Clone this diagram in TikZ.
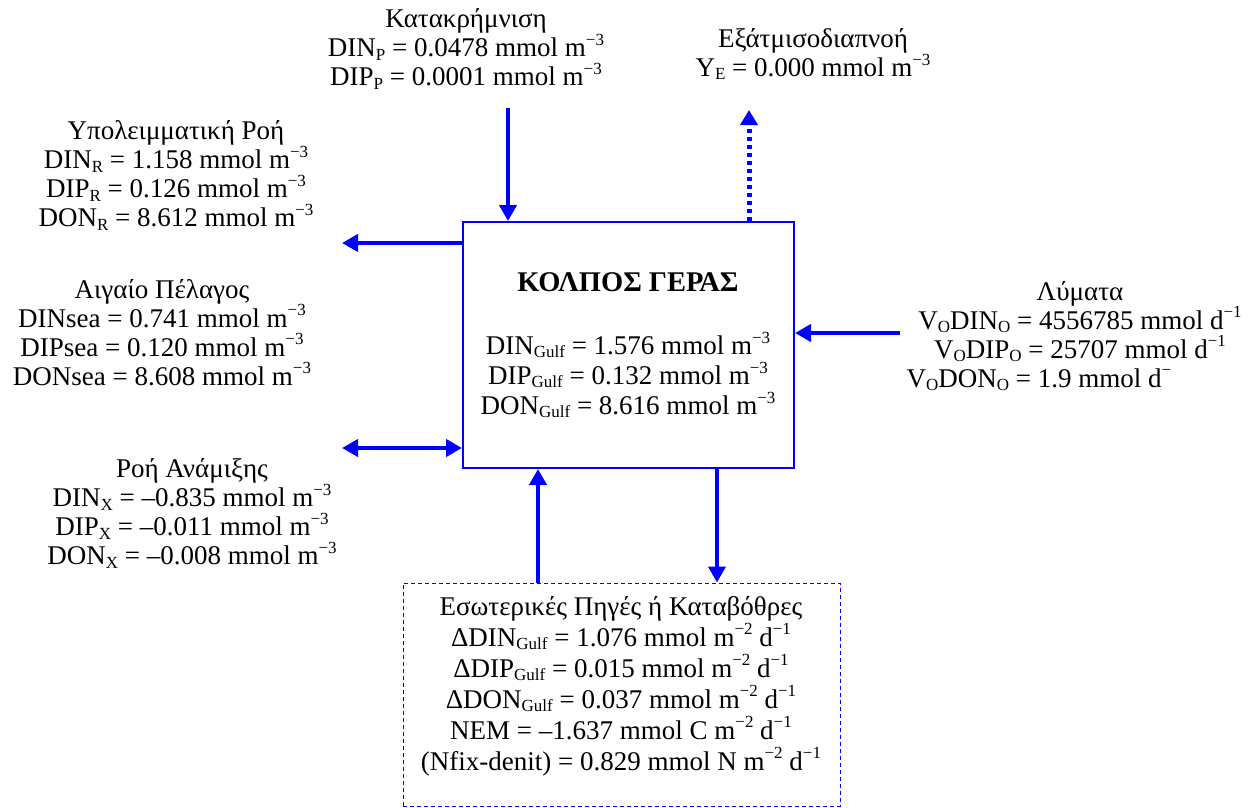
\documentclass[tikz,border=0pt]{standalone}
\usepackage{fontspec}
\setmainfont{Liberation Serif}
\usetikzlibrary{arrows.meta}
\definecolor{flow}{RGB}{0,0,255}
\newcommand{\ssub}[1]{\raisebox{-0.12em}{\fontsize{17}{17}\selectfont #1}}
\newcommand{\ssup}[1]{\raisebox{0.42em}{\fontsize{17}{17}\selectfont #1}}
\begin{document}
\begin{tikzpicture}[x=1pt,y=-1pt,
  txt/.style={align=center, font=\fontsize{27}{29}\selectfont, inner sep=0pt},
  boxtxt/.style={align=center, font=\fontsize{27}{30}\selectfont, inner sep=0pt},
  sinktxt/.style={align=center, font=\fontsize{27}{31}\selectfont, inner sep=0pt},
  flowline/.style={draw=flow, line width=4.5pt, -{Triangle[length=16pt,width=17pt]}},
  evapline/.style={draw=flow, line width=5pt, dash pattern=on 4pt off 4pt, -{Triangle[length=15pt,width=17pt]}},
]
\useasboundingbox (0,0) rectangle (1256,808);

% central compartment
\node[draw=flow, line width=2pt, minimum width=331pt, minimum height=246pt, inner sep=0pt] (gulf) at (628.5,345) {};
\node[boxtxt, font=\fontsize{28.5}{30}\selectfont\bfseries] (gulfT) at (628,282) {ΚΟΛΠΟΣ ΓΕΡΑΣ};
\node[boxtxt] (gulfV) at (628,375) {DIN\ssub{Gulf} = 1.576 mmol m\ssup{−3}\\
  DIP\ssub{Gulf} = 0.132 mmol m\ssup{−3}\\
  DON\ssub{Gulf} = 8.616 mmol m\ssup{−3}};

% internal sources / sinks
\node[draw=flow, line width=1pt, dash pattern=on 4pt off 3pt, minimum width=437pt, minimum height=223pt, inner sep=0pt] (sink) at (621.5,694.5) {};
\node[sinktxt] (sinkT) at (621,686) {Εσωτερικές Πηγές ή Καταβόθρες\\
  ΔDIN\ssub{Gulf} = 1.076 mmol m\ssup{−2} d\ssup{−1}\\
  ΔDIP\ssub{Gulf} = 0.015 mmol m\ssup{−2} d\ssup{−1}\\
  ΔDON\ssub{Gulf} = 0.037 mmol m\ssup{−2} d\ssup{−1}\\
  NEM = –1.637 mmol C m\ssup{−2} d\ssup{−1}\\
  (Nfix-denit) = 0.829 mmol N m\ssup{−2} d\ssup{−1}};

% outer terms
\node[txt] (rain) at (466,49) {Κατακρήμνιση\\
  DIN\ssub{P} = 0.0478 mmol m\ssup{−3}\\
  DIP\ssub{P} = 0.0001 mmol m\ssup{−3}};
\node[txt] (evap) at (813,54) {Εξάτμισοδιαπνοή\\
  Y\ssub{E} = 0.000 mmol m\ssup{−3}};
\node[txt] (resid) at (176,175.5) {Υπολειμματική Ροή\\
  DIN\ssub{R} = 1.158 mmol m\ssup{−3}\\
  DIP\ssub{R} = 0.126 mmol m\ssup{−3}\\
  DON\ssub{R} = 8.612 mmol m\ssup{−3}};
\node[txt] (sea) at (162,332.5) {Αιγαίο Πέλαγος\\
  DINsea = 0.741 mmol m\ssup{−3}\\
  DIPsea = 0.120 mmol m\ssup{−3}\\
  DONsea = 8.608 mmol m\ssup{−3}};
\node[txt] (mix) at (192,513.5) {Ροή Ανάμιξης\\
  DIN\ssub{X} = –0.835 mmol m\ssup{−3}\\
  DIP\ssub{X} = –0.011 mmol m\ssup{−3}\\
  DON\ssub{X} = –0.008 mmol m\ssup{−3}};
\node[txt] (waste) at (1080,336) {Λύματα\\
  V\ssub{O}DIN\ssub{O} = 4556785 mmol d\ssup{−1}\\
  V\ssub{O}DIP\ssub{O} = 25707 mmol d\ssup{−1}\\
  V\ssub{O}DON\ssub{O} = 1.9 mmol d\ssup{−}\hspace*{82pt}};

% free ends of the flux arrows
\coordinate (rainS) at (508,108);
\coordinate (evapE) at (749,110);
\coordinate (residE) at (342,243);
\coordinate (mixE) at (342,448);
\coordinate (wasteS) at (900,333);

% fluxes
\draw[flowline] (rainS) -- (rainS |- gulf.north);
\draw[evapline] (evapE |- gulf.north) -- (evapE);
\draw[flowline] (residE -| gulf.west) -- (residE);
\draw[flowline, {Triangle[length=16pt,width=17pt]}-{Triangle[length=16pt,width=17pt]}] (mixE) -- (mixE -| gulf.west);
\draw[flowline] (wasteS) -- (wasteS -| gulf.east);
\draw[flowline] (sink.north -| 538,0) -- (gulf.south -| 538,0);
\draw[flowline] (gulf.south -| 717,0) -- (sink.north -| 717,0);
\end{tikzpicture}
\end{document}
